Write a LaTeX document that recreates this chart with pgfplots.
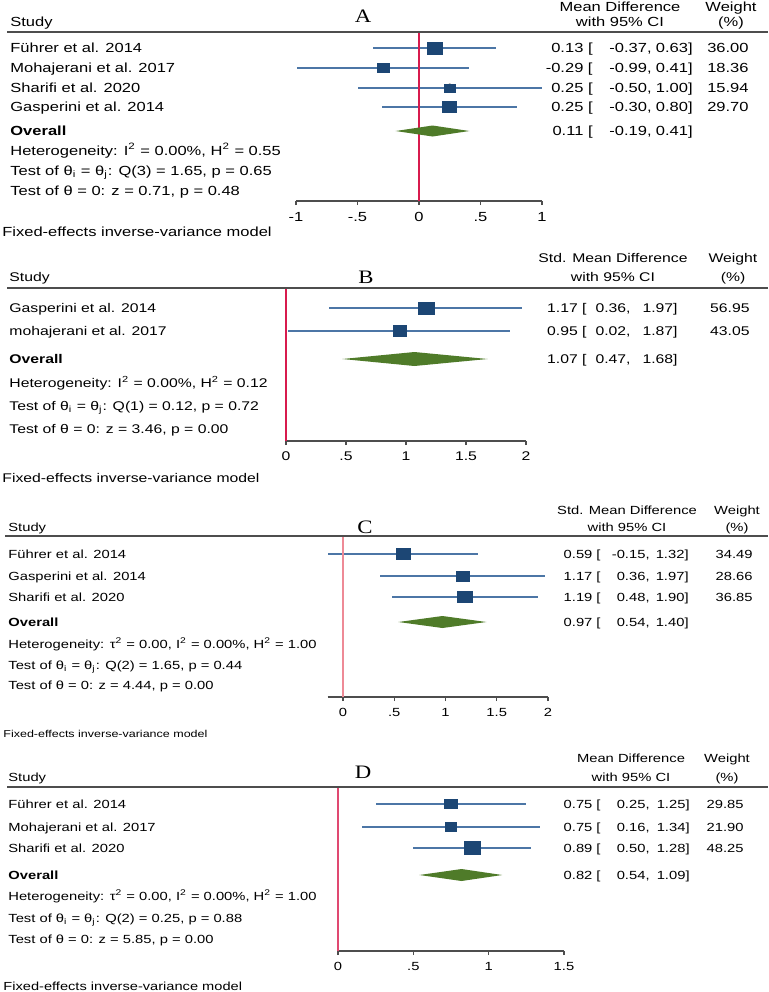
\documentclass[border=0pt]{standalone}
\usepackage{pgfplots}
\pgfplotsset{compat=1.18}
\usepackage{pgfplotstable}
\usepackage{fontspec}
\setmainfont{Liberation Sans}[FakeStretch=1.25]
\newfontfamily\letterfont{Liberation Serif}[FakeStretch=1.2]

\definecolor{sqblue}{HTML}{1C4674}
\definecolor{ciblue}{HTML}{4C76A6}
\definecolor{dgreen}{HTML}{4F7B29}
\definecolor{nullred}{HTML}{D81B4E}
\definecolor{palered}{HTML}{EE8A96}
\definecolor{rulegray}{HTML}{4D4D4D}

% row = vertical pixel position of each study line
\pgfplotstableread{
est   lo    hi   w     row
0.13  -0.37 0.63 36.00 48
-0.29 -0.99 0.41 18.36 68
0.25  -0.50 1.00 15.94 88
0.25  -0.30 0.80 29.70 107
}\studyA
\pgfplotstableread{
est   lo    hi   w     row
1.17  0.36  1.97 56.95 308
0.95  0.02  1.87 43.05 331
}\studyB
\pgfplotstableread{
est   lo    hi   w     row
0.59  -0.15 1.32 34.49 554
1.17  0.36  1.97 28.66 576
1.19  0.48  1.90 36.85 597
}\studyC
\pgfplotstableread{
est   lo    hi   w     row
0.75  0.25  1.25 29.85 804
0.75  0.16  1.34 21.90 827
0.89  0.50  1.28 48.25 848
}\studyD

\newcommand\fA{\fontsize{6.6}{8}\selectfont}
\newcommand\fB{\fontsize{6.3}{7.5}\selectfont}
\newcommand\fC{\fontsize{5.9}{7}\selectfont}
\newcommand\fL{\letterfont\fontsize{9.5}{10}\selectfont}

\pgfplotsset{
  forest/.style={
    scale only axis, clip=false, anchor=south west,
    axis x line*=bottom, axis y line=none, ytick=\empty,
    x axis line style={rulegray, line width=0.55pt},
    xtick style={rulegray, line width=0.55pt},
    tick align=outside, major tick length=2pt,
    /pgf/number format/assume math mode=true,
  },
  cibar/.style={only marks, mark=none,
    error bars/.cd, x dir=both, x explicit, error mark=none,
    error bar style={draw=ciblue, line width=0.65pt}},
  wsq/.style={scatter, only marks, mark=square*,
    scatter/use mapped color={draw=sqblue, fill=sqblue},
    visualization depends on={#1*sqrt(\thisrow{w}) \as \msz},
    scatter/@pre marker code/.append style={/tikz/mark size=\msz, /tikz/xscale=1.3}},
}
\tikzset{
  tl/.style={anchor=base west, yshift=-2.3pt, inner sep=0pt},
  tr/.style={anchor=base east, yshift=-2.3pt, inner sep=0pt},
  tc/.style={anchor=base, yshift=-2.3pt, inner sep=0pt},
}

\begin{document}
\begin{tikzpicture}
\useasboundingbox (0,0) rectangle (384pt,-496pt);

% ---------- A ----------
\begin{axis}[forest, at={(148pt,-100.5pt)}, width=123pt, height=84.5pt,
  xmin=-1, xmax=1, ymin=-201, ymax=-32,
  xtick={-1,-0.5,0,0.5,1}, xticklabels={-1,-.5,0,.5,1},
  xticklabel style={font=\fA}]
\addplot[cibar] table[x=est, y expr=-\thisrow{row},
  x error plus expr=\thisrow{hi}-\thisrow{est},
  x error minus expr=\thisrow{est}-\thisrow{lo}] {\studyA};
\addplot[nullred, line width=0.6pt] coordinates {(0,-32) (0,-201)};
\addplot[wsq=0.5] table[x=est, y expr=-\thisrow{row}] {\studyA};
\addplot[fill=dgreen, draw=none] coordinates {(-0.19,-131) (0.11,-125.5) (0.41,-131) (0.11,-136.5) (-0.19,-131)};
\end{axis}

% ---------- B ----------
\begin{axis}[forest, at={(143pt,-220.5pt)}, width=120pt, height=76.5pt,
  xmin=0, xmax=2, ymin=-441, ymax=-288,
  xtick={0,0.5,1,1.5,2}, xticklabels={0,.5,1,1.5,2},
  xticklabel style={font=\fB}]
\addplot[cibar] table[x=est, y expr=-\thisrow{row},
  x error plus expr=\thisrow{hi}-\thisrow{est},
  x error minus expr=\thisrow{est}-\thisrow{lo}] {\studyB};
\addplot[nullred, line width=0.6pt] coordinates {(0,-288) (0,-441)};
\addplot[wsq=0.4] table[x=est, y expr=-\thisrow{row}] {\studyB};
\addplot[fill=dgreen, draw=none] coordinates {(0.47,-359) (1.07,-352) (1.68,-359) (1.07,-366) (0.47,-359)};
\end{axis}

% ---------- C ----------
\begin{axis}[forest, at={(163.8pt,-348.5pt)}, width=110.2pt, height=80.5pt,
  xmin=-0.15, xmax=2, ymin=-697, ymax=-536,
  xtick={0,0.5,1,1.5,2}, xticklabels={0,.5,1,1.5,2},
  xticklabel style={font=\fC}]
\addplot[cibar] table[x=est, y expr=-\thisrow{row},
  x error plus expr=\thisrow{hi}-\thisrow{est},
  x error minus expr=\thisrow{est}-\thisrow{lo}] {\studyC};
\addplot[palered, line width=0.6pt] coordinates {(0,-536) (0,-697)};
\addplot[wsq=0.46] table[x=est, y expr=-\thisrow{row}] {\studyC};
\addplot[fill=dgreen, draw=none] coordinates {(0.54,-622) (0.97,-616) (1.40,-622) (0.97,-628) (0.54,-622)};
\end{axis}

% ---------- D ----------
\begin{axis}[forest, at={(169pt,-475.5pt)}, width=113pt, height=82pt,
  xmin=0, xmax=1.5, ymin=-951, ymax=-787,
  xtick={0,0.5,1,1.5}, xticklabels={0,.5,1,1.5},
  xticklabel style={font=\fC}]
\addplot[cibar] table[x=est, y expr=-\thisrow{row},
  x error plus expr=\thisrow{hi}-\thisrow{est},
  x error minus expr=\thisrow{est}-\thisrow{lo}] {\studyD};
\addplot[nullred!80!white, line width=0.6pt] coordinates {(0,-787) (0,-951)};
\addplot[wsq=0.44] table[x=est, y expr=-\thisrow{row}] {\studyD};
\addplot[fill=dgreen, draw=none] coordinates {(0.54,-875) (0.82,-869) (1.09,-875) (0.82,-881) (0.54,-875)};
\end{axis}

\begin{scope}[x=0.5pt, y=-0.5pt]
% ---------- A text ----------
\draw[rulegray, line width=1pt] (7,32) -- (768,32);
\node[font=\fL] at (363,16) {A};
\begin{scope}[font=\fA]
\node[tl] at (10,22) {Study};
\node[tc] at (620,7) {Mean Difference};
\node[tc] at (620,22) {with 95\% CI};
\node[tc] at (731,7) {Weight};
\node[tc] at (731,22) {(\%)};
\node[tl] at (10,48) {Führer et al. 2014};
\node[tl] at (10,68) {Mohajerani et al. 2017};
\node[tl] at (10,88) {Sharifi et al. 2020};
\node[tl] at (10,107) {Gasperini et al. 2014};
\node[tl] at (10,131) {\bfseries Overall};
\node[tl] at (10,151) {Heterogeneity: I\textsuperscript{2} = 0.00\%, H\textsuperscript{2} = 0.55};
\node[tl] at (10,171) {Test of θ\textsubscript{i} = θ\textsubscript{j}: Q(3) = 1.65, p = 0.65};
\node[tl] at (10,191) {Test of θ = 0: z = 0.71, p = 0.48};
\node[tl] at (2,232) {Fixed-effects inverse-variance model};
\node[tr] at (593,48) {0.13 [}; \node[tr] at (652,48) {-0.37,}; \node[tr] at (693,48) {0.63]}; \node[tr] at (749,48) {36.00};
\node[tr] at (593,68) {-0.29 [}; \node[tr] at (652,68) {-0.99,}; \node[tr] at (693,68) {0.41]}; \node[tr] at (749,68) {18.36};
\node[tr] at (593,88) {0.25 [}; \node[tr] at (652,88) {-0.50,}; \node[tr] at (693,88) {1.00]}; \node[tr] at (749,88) {15.94};
\node[tr] at (593,107) {0.25 [}; \node[tr] at (652,107) {-0.30,}; \node[tr] at (693,107) {0.80]}; \node[tr] at (749,107) {29.70};
\node[tr] at (593,131) {0.11 [}; \node[tr] at (652,131) {-0.19,}; \node[tr] at (693,131) {0.41]};
\end{scope}

% ---------- B text ----------
\draw[rulegray, line width=1pt] (7,288) -- (768,288);
\node[font=\fL] at (366,277) {B};
\begin{scope}[font=\fB]
\node[tl] at (9,277) {Study};
\node[tc] at (613,258) {Std. Mean Difference};
\node[tc] at (613,277) {with 95\% CI};
\node[tc] at (733,258) {Weight};
\node[tc] at (733,277) {(\%)};
\node[tl] at (9,308) {Gasperini et al. 2014};
\node[tl] at (9,331) {mohajerani et al. 2017};
\node[tl] at (9,359) {\bfseries Overall};
\node[tl] at (9,383) {Heterogeneity: I\textsuperscript{2} = 0.00\%, H\textsuperscript{2} = 0.12};
\node[tl] at (9,406) {Test of θ\textsubscript{i} = θ\textsubscript{j}: Q(1) = 0.12, p = 0.72};
\node[tl] at (9,429) {Test of θ = 0: z = 3.46, p = 0.00};
\node[tl] at (2,478) {Fixed-effects inverse-variance model};
\node[tr] at (587,308) {1.17 [}; \node[tr] at (631,308) {0.36,}; \node[tr] at (678,308) {1.97]}; \node[tr] at (750,308) {56.95};
\node[tr] at (587,331) {0.95 [}; \node[tr] at (631,331) {0.02,}; \node[tr] at (678,331) {1.87]}; \node[tr] at (750,331) {43.05};
\node[tr] at (587,359) {1.07 [}; \node[tr] at (631,359) {0.47,}; \node[tr] at (678,359) {1.68]};
\end{scope}

% ---------- C text ----------
\draw[rulegray, line width=1pt] (5,536) -- (768,536);
\node[font=\fL] at (365,527) {C};
\begin{scope}[font=\fC]
\node[tl] at (8,527) {Study};
\node[tc] at (627,510) {Std. Mean Difference};
\node[tc] at (627,527) {with 95\% CI};
\node[tc] at (737,510) {Weight};
\node[tc] at (737,527) {(\%)};
\node[tl] at (8,554) {Führer et al. 2014};
\node[tl] at (8,576) {Gasperini et al. 2014};
\node[tl] at (8,597) {Sharifi et al. 2020};
\node[tl] at (8,622) {\bfseries Overall};
\node[tl] at (8,644) {Heterogeneity: τ\textsuperscript{2} = 0.00, I\textsuperscript{2} = 0.00\%, H\textsuperscript{2} = 1.00};
\node[tl] at (8,665) {Test of θ\textsubscript{i} = θ\textsubscript{j}: Q(2) = 1.65, p = 0.44};
\node[tl] at (8,685) {Test of θ = 0: z = 4.44, p = 0.00};
\node[tl, font=\fontsize{5}{6}\selectfont] at (3,733) {Fixed-effects inverse-variance model};
\node[tr] at (601,554) {0.59 [}; \node[tr] at (650,554) {-0.15,}; \node[tr] at (689,554) {1.32]}; \node[tr] at (753,554) {34.49};
\node[tr] at (601,576) {1.17 [}; \node[tr] at (650,576) {0.36,}; \node[tr] at (689,576) {1.97]}; \node[tr] at (753,576) {28.66};
\node[tr] at (601,597) {1.19 [}; \node[tr] at (650,597) {0.48,}; \node[tr] at (689,597) {1.90]}; \node[tr] at (753,597) {36.85};
\node[tr] at (601,622) {0.97 [}; \node[tr] at (650,622) {0.54,}; \node[tr] at (689,622) {1.40]};
\end{scope}

% ---------- D text ----------
\draw[rulegray, line width=1pt] (7,787) -- (768,787);
\node[font=\fL] at (363,772) {D};
\begin{scope}[font=\fC]
\node[tl] at (8,777) {Study};
\node[tc] at (631,758) {Mean Difference};
\node[tc] at (631,777) {with 95\% CI};
\node[tc] at (727,758) {Weight};
\node[tc] at (727,777) {(\%)};
\node[tl] at (8,804) {Führer et al. 2014};
\node[tl] at (8,827) {Mohajerani et al. 2017};
\node[tl] at (8,848) {Sharifi et al. 2020};
\node[tl] at (8,875) {\bfseries Overall};
\node[tl] at (8,896) {Heterogeneity: τ\textsuperscript{2} = 0.00, I\textsuperscript{2} = 0.00\%, H\textsuperscript{2} = 1.00};
\node[tl] at (8,918) {Test of θ\textsubscript{i} = θ\textsubscript{j}: Q(2) = 0.25, p = 0.88};
\node[tl] at (8,939) {Test of θ = 0: z = 5.85, p = 0.00};
\node[tl, font=\fontsize{5.85}{7}\selectfont] at (3,986) {Fixed-effects inverse-variance model};
\node[tr] at (601,804) {0.75 [}; \node[tr] at (650,804) {0.25,}; \node[tr] at (690,804) {1.25]}; \node[tr] at (744,804) {29.85};
\node[tr] at (601,827) {0.75 [}; \node[tr] at (650,827) {0.16,}; \node[tr] at (690,827) {1.34]}; \node[tr] at (744,827) {21.90};
\node[tr] at (601,848) {0.89 [}; \node[tr] at (650,848) {0.50,}; \node[tr] at (690,848) {1.28]}; \node[tr] at (744,848) {48.25};
\node[tr] at (601,875) {0.82 [}; \node[tr] at (650,875) {0.54,}; \node[tr] at (690,875) {1.09]};
\end{scope}
\end{scope}
\end{tikzpicture}
\end{document}
